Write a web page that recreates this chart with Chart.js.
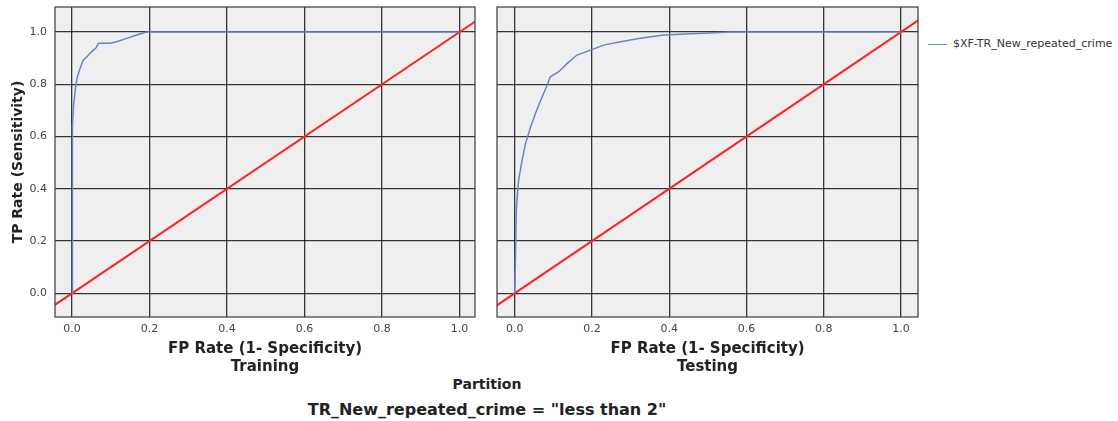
<!DOCTYPE html>
<html lang="en">
<head>
    <meta charset="UTF-8">
    <title>ROC Curve</title>
    <script src="https://cdn.jsdelivr.net/npm/chart.js"></script>
    <style>
        body { margin: 0; background: #fff; font-family: "DejaVu Sans", sans-serif; }
        #page { position: relative; width: 1118px; height: 421px; }
        .panel { position: absolute; top: 0; }
        #trainBox { left: 0; width: 476px; height: 376px; }
        #testBox { left: 480px; width: 439px; height: 376px; }
        #legend { position: absolute; left: 928px; top: 37px; font-size: 11px; color: #333; white-space: nowrap; }
        #legend .swatch { display: inline-block; width: 19px; height: 0; border-top: 1.5px solid #6b84c8; vertical-align: middle; margin-right: 6px; }
        .caption { position: absolute; left: 0; width: 974px; text-align: center; font-weight: bold; color: #222; }
        #partition { top: 376px; font-size: 14px; }
        #split { top: 400px; font-size: 16px; }
    </style>
</head>
<body>
<div id="page">
    <div class="panel" id="trainBox"><canvas id="trainChart"></canvas></div>
    <div class="panel" id="testBox"><canvas id="testChart"></canvas></div>
    <div id="legend"><span class="swatch"></span>$XF-TR_New_repeated_crime</div>
    <div class="caption" id="partition">Partition</div>
    <div class="caption" id="split">TR_New_repeated_crime = "less than 2"</div>
</div>

<script>
    // ROC points, training partition
    const trainFpr = [0, 0.000, 0.002, 0.004, 0.007, 0.010, 0.014, 0.019, 0.029, 0.038, 0.046, 0.055, 0.062, 0.068, 0.098, 0.115, 0.141, 0.167, 0.193, 1.0];
    const trainTpr = [0, 0.58, 0.64, 0.72, 0.76, 0.80, 0.83, 0.854, 0.893, 0.905, 0.918, 0.931, 0.94, 0.957, 0.957, 0.963, 0.976, 0.989, 1.0, 1.0];

    // ROC points, testing partition
    const testFpr = [0, 0.002, 0.004, 0.007, 0.010, 0.019, 0.028, 0.041, 0.054, 0.071, 0.084, 0.092, 0.114, 0.136, 0.161, 0.196, 0.23, 0.274, 0.325, 0.386, 0.472, 0.56, 0.653, 1.0];
    const testTpr = [0, 0.15, 0.318, 0.38, 0.433, 0.51, 0.574, 0.637, 0.69, 0.752, 0.797, 0.829, 0.848, 0.88, 0.912, 0.931, 0.95, 0.963, 0.976, 0.989, 0.995, 1.0, 1.0, 1.0];

    // reference diagonal (chance line)
    const diagX = [-0.1, 1.1];
    const diagY = [-0.1, 1.1];

    const xTicks = [0, 0.2, 0.4, 0.6, 0.8, 1.0];
    const yTicks = [0, 0.2, 0.4, 0.6, 0.8, 1.0];

    const seriesName = '$XF-TR_New_repeated_crime';
    const curveColor = '#6b84c8';
    const diagColor = '#ff2020';
    const gridColor = 'rgba(0,0,0,0.78)';

    function toPoints(xs, ys) {
        return xs.map((x, i) => ({ x: x, y: ys[i] }));
    }

    // grey plot background and dark frame around the plot area
    const frame = {
        id: 'frame',
        beforeDraw(chart) {
            const a = chart.chartArea;
            const ctx = chart.ctx;
            ctx.save();
            ctx.fillStyle = '#efefef';
            ctx.fillRect(a.left, a.top, a.right - a.left, a.bottom - a.top);
            ctx.restore();
        },
        afterDraw(chart) {
            const a = chart.chartArea;
            const ctx = chart.ctx;
            ctx.save();
            ctx.strokeStyle = '#3a3a3a';
            ctx.lineWidth = 1.2;
            ctx.strokeRect(a.left, a.top, a.right - a.left, a.bottom - a.top);
            ctx.restore();
        }
    };

    function makeChart(id, fpr, tpr, partition, xMin, xMax, showY, yWidth) {
        const ctx = document.getElementById(id).getContext('2d');
        return new Chart(ctx, {
            type: 'scatter',
            data: {
                datasets: [{
                    label: seriesName,
                    data: toPoints(fpr, tpr),
                    showLine: true,
                    borderColor: curveColor,
                    borderWidth: 1.5,
                    pointRadius: 0,
                    tension: 0
                }, {
                    label: 'diagonal',
                    data: toPoints(diagX, diagY),
                    showLine: true,
                    borderColor: diagColor,
                    borderWidth: 2,
                    pointRadius: 0
                }]
            },
            options: {
                responsive: true,
                maintainAspectRatio: false,
                animation: false,
                layout: { padding: { top: 7, right: 1, left: 0, bottom: 0 } },
                plugins: {
                    legend: { display: false },
                    tooltip: { enabled: false }
                },
                scales: {
                    x: {
                        type: 'linear',
                        min: xMin,
                        max: xMax,
                        afterBuildTicks: axis => { axis.ticks = xTicks.map(v => ({ value: v })); },
                        afterFit: axis => { axis.height = 59; axis.paddingLeft = 0; axis.paddingRight = 0; },
                        grid: { color: gridColor, lineWidth: 1.3, drawTicks: false },
                        border: { display: false },
                        ticks: {
                            padding: 6,
                            color: '#444',
                            font: { family: 'DejaVu Sans', size: 11 },
                            callback: v => v.toFixed(1)
                        },
                        title: {
                            display: true,
                            text: ['FP Rate (1- Specificity)', partition],
                            color: '#222',
                            font: { family: 'DejaVu Sans', size: 15, weight: 'bold', lineHeight: 1.2 },
                            padding: 0
                        }
                    },
                    y: {
                        type: 'linear',
                        min: -0.091,
                        max: 1.096,
                        afterBuildTicks: axis => { axis.ticks = yTicks.map(v => ({ value: v })); },
                        afterFit: axis => { axis.width = yWidth; axis.paddingTop = 0; axis.paddingBottom = 0; },
                        grid: { color: gridColor, lineWidth: 1.3, drawTicks: false },
                        border: { display: false },
                        ticks: {
                            display: showY,
                            padding: 8,
                            color: '#444',
                            font: { family: 'DejaVu Sans', size: 11 },
                            callback: v => v.toFixed(1)
                        },
                        title: {
                            display: showY,
                            text: 'TP Rate (Sensitivity)',
                            color: '#222',
                            font: { family: 'DejaVu Sans', size: 14, weight: 'bold' },
                            padding: { top: 10, bottom: 0 }
                        }
                    }
                }
            },
            plugins: [frame]
        });
    }

    makeChart('trainChart', trainFpr, trainTpr, 'Training', -0.044, 1.04, true, 55);
    makeChart('testChart', testFpr, testTpr, 'Testing', -0.046, 1.044, false, 17);
</script>
</body>
</html>
